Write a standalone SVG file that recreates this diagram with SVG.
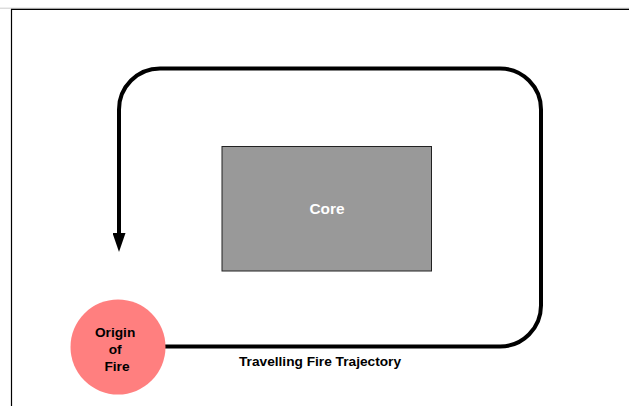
<svg xmlns="http://www.w3.org/2000/svg" width="629" height="406" viewBox="0 0 629 406">
  <style>
    .lbl { font-family: "Liberation Sans", Arial, sans-serif; font-weight: bold; }
    .frame { stroke: #000; stroke-width: 1.2; fill: none; }
    .path { stroke: #000; stroke-width: 4; fill: none; stroke-linejoin: round; }
  </style>
  <defs>
    <!-- filled triangular arrowhead, tip at the path end -->
    <marker id="arrow" viewBox="0 -6.5 19 13" refX="0" refY="0" markerWidth="19" markerHeight="13" orient="auto" markerUnits="userSpaceOnUse">
      <path d="M0,-6.5 L19,0 L0,6.5 Z" fill="#000"/>
    </marker>
  </defs>
  <rect width="629" height="406" fill="#fff"/>

  <!-- page frame (top and left edges) -->
  <line x1="0" y1="8.2" x2="629" y2="8.2" stroke="#ccc" stroke-width="1"/>
  <path class="frame" d="M11.5,406 L11.5,9.3 L629,9.3"/>

  <!-- fire trajectory -->
  <g id="connectors">
    <path class="path" marker-end="url(#arrow)" d="M165,346.5 L500,346.5 A41,41 0 0 0 541,305.5 L541,109.5 A41,41 0 0 0 500,68.5 L160,68.5 A41,41 0 0 0 119,109.5 L119,233"/>
    <text class="lbl" x="239" y="366" font-size="13.7" fill="#000">Travelling Fire Trajectory</text>
  </g>

  <!-- core -->
  <g id="core">
    <rect x="222" y="146.5" width="209.5" height="124.5" fill="#999" stroke="#222" stroke-width="1"/>
    <text class="lbl" x="327" y="214" font-size="15.4" fill="#fff" text-anchor="middle">Core</text>
  </g>

  <!-- origin of fire -->
  <g id="origin">
    <circle cx="118" cy="347" r="47.5" fill="#FF7F7F"/>
    <text class="lbl" font-size="13.7" fill="#000" text-anchor="middle">
      <tspan x="117" y="336.5">Origin</tspan>
      <tspan x="117" y="353.5">of</tspan>
      <tspan x="117" y="370.5">Fire</tspan>
    </text>
  </g>
</svg>
